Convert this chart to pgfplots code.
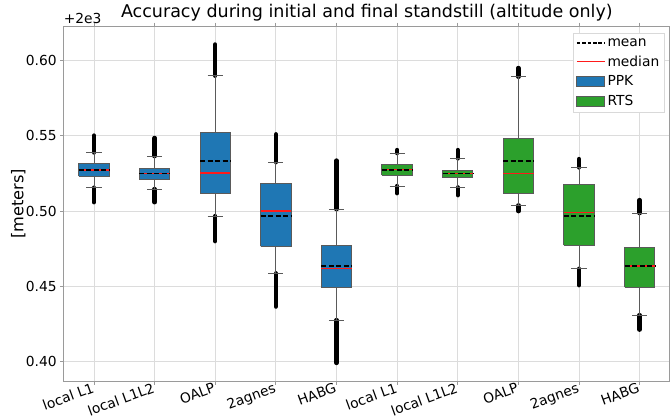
\documentclass[border=0pt]{standalone}
\usepackage{pgfplots}
\pgfplotsset{compat=1.18}
\usepackage{fontspec}
\setmainfont{DejaVu Sans}
\definecolor{ppk}{HTML}{1F77B4}
\definecolor{rts}{HTML}{2CA02C}
\definecolor{edge}{HTML}{5A5A5A}
\definecolor{gridc}{HTML}{DCDCDC}
\definecolor{spine}{HTML}{9A9A9A}
\definecolor{medc}{HTML}{FF1A1A}
\newcommand{\tickfont}{\fontsize{13.8}{16}\selectfont}
\begin{document}
\begin{tikzpicture}
\begin{axis}[
  name=ax,
  scale only axis,
  width=606pt, height=355pt,
  xmin=0.5, xmax=10.5,
  ymin=0.3871, ymax=0.6227,
  xtick={1,...,10},
  xticklabels={local L1, local L1L2, OALP, 2agnes, HABG, local L1, local L1L2, OALP, 2agnes, HABG},
  ytick={0.40,0.45,0.50,0.55,0.60},
  scaled y ticks=false,
  y tick label style={font=\tickfont, /pgf/number format/fixed, /pgf/number format/fixed zerofill, /pgf/number format/precision=2},
  /pgf/number format/assume math mode=true,
  x tick label style={xshift=-2pt, yshift=4pt, rotate=20, anchor=north east, font=\tickfont, inner sep=1pt},
  tick align=outside,
  major tick length=3.5pt,
  tick style={spine, line width=0.8pt},
  axis line style={spine, line width=1.2pt},
  grid=major,
  major grid style={gridc, line width=0.8pt},
  title={Accuracy during initial and final standstill (altitude only)},
  title style={at={(axis description cs:0.5,1)}, anchor=base, yshift=2.5pt, font=\fontsize{17.5}{20}\selectfont},
  ylabel={[meters]},
  ylabel style={at={(axis description cs:-0.057,0.5)}, anchor=south, font=\fontsize{16.2}{19}\selectfont},
  legend style={at={(axis description cs:1,1)}, anchor=north east, xshift=-6pt, yshift=-7pt, draw=black!15, fill=white, font=\tickfont, row sep=4pt, inner xsep=2.5pt, inner ysep=3pt, /tikz/every even column/.append style={column sep=7pt}},
  legend cell align=left,
]
\addlegendimage{legend image code/.code={\draw[black, line width=1.3pt, dash pattern=on 3.6pt off 1.8pt] (0pt,0pt) -- (28pt,0pt);}}
\addlegendentry{mean}
\addlegendimage{legend image code/.code={\draw[draw=medc, line width=1.4pt] (0pt,0pt) -- (28pt,0pt);}}
\addlegendentry{median}
\addlegendimage{legend image code/.code={\draw[fill=ppk, draw=edge, line width=0.9pt] (0pt,-5pt) rectangle (28pt,5pt);}}
\addlegendentry{PPK}
\addlegendimage{legend image code/.code={\draw[fill=rts, draw=edge, line width=0.9pt] (0pt,-5pt) rectangle (28pt,5pt);}}
\addlegendentry{RTS}

% fliers (dense outlier bands)
\addplot[black, line width=4.5pt, line cap=round, forget plot, unbounded coords=jump] coordinates {
 (1,0.5389) (1,0.5501) (1,nan)
 (1,0.5155) (1,0.5059) (1,nan)
 (2,0.5365) (2,0.5485) (2,nan)
 (2,0.5146) (2,0.5059) (2,nan)
 (3,0.5898) (3,0.6105) (3,nan)
 (3,0.4967) (3,0.4801) (3,nan)
 (4,0.5325) (4,0.5509) (4,nan)
 (4,0.4587) (4,0.4367) (4,nan)
 (5,0.5013) (5,0.5335) (5,nan)
 (5,0.4277) (5,0.3993) (5,nan)
 (6,0.5385) (6,0.5405) (6,nan)
 (6,0.5166) (6,0.5119) (6,nan)
 (7,0.5350) (7,0.5405) (7,nan)
 (7,0.5157) (7,0.5106) (7,nan)
 (8,0.5891) (8,0.5949) (8,nan)
 (8,0.5038) (8,0.5000) (8,nan)
 (9,0.5290) (9,0.5345) (9,nan)
 (9,0.4617) (9,0.4509) (9,nan)
 (10,0.4987) (10,0.5073) (10,nan)
 (10,0.4310) (10,0.4214)
};

% whiskers and caps
\addplot[edge, line width=0.9pt, forget plot, unbounded coords=jump] coordinates {
 (1,0.5314)(1,0.5389)(1,nan)(0.875,0.5389)(1.125,0.5389)(1,nan)(1,0.5230)(1,0.5155)(1,nan)(0.875,0.5155)(1.125,0.5155)(1,nan)
 (2,0.5283)(2,0.5365)(2,nan)(1.875,0.5365)(2.125,0.5365)(2,nan)(2,0.5210)(2,0.5146)(2,nan)(1.875,0.5146)(2.125,0.5146)(2,nan)
 (3,0.5520)(3,0.5898)(3,nan)(2.875,0.5898)(3.125,0.5898)(3,nan)(3,0.5117)(3,0.4967)(3,nan)(2.875,0.4967)(3.125,0.4967)(3,nan)
 (4,0.5184)(4,0.5325)(4,nan)(3.875,0.5325)(4.125,0.5325)(4,nan)(4,0.4766)(4,0.4587)(4,nan)(3.875,0.4587)(4.125,0.4587)(4,nan)
 (5,0.4770)(5,0.5013)(5,nan)(4.875,0.5013)(5.125,0.5013)(5,nan)(5,0.4494)(5,0.4277)(5,nan)(4.875,0.4277)(5.125,0.4277)(5,nan)
 (6,0.5310)(6,0.5385)(6,nan)(5.875,0.5385)(6.125,0.5385)(6,nan)(6,0.5239)(6,0.5166)(6,nan)(5.875,0.5166)(6.125,0.5166)(6,nan)
 (7,0.5270)(7,0.5350)(7,nan)(6.875,0.5350)(7.125,0.5350)(7,nan)(7,0.5221)(7,0.5157)(7,nan)(6.875,0.5157)(7.125,0.5157)(7,nan)
 (8,0.5482)(8,0.5891)(8,nan)(7.875,0.5891)(8.125,0.5891)(8,nan)(8,0.5117)(8,0.5038)(8,nan)(7.875,0.5038)(8.125,0.5038)(8,nan)
 (9,0.5175)(9,0.5290)(9,nan)(8.875,0.5290)(9.125,0.5290)(9,nan)(9,0.4772)(9,0.4617)(9,nan)(8.875,0.4617)(9.125,0.4617)(9,nan)
 (10,0.4759)(10,0.4987)(10,nan)(9.875,0.4987)(10.125,0.4987)(10,nan)(10,0.4496)(10,0.4310)(10,nan)(9.875,0.4310)(10.125,0.4310)
};

% boxes (lower quartile to upper quartile)
\addplot[fill=ppk, draw=edge, line width=1pt, forget plot] coordinates {(0.75,0.5230)(1.25,0.5230)(1.25,0.5314)(0.75,0.5314)(0.75,0.5230)};
\addplot[fill=ppk, draw=edge, line width=1pt, forget plot] coordinates {(1.75,0.5210)(2.25,0.5210)(2.25,0.5283)(1.75,0.5283)(1.75,0.5210)};
\addplot[fill=ppk, draw=edge, line width=1pt, forget plot] coordinates {(2.75,0.5117)(3.25,0.5117)(3.25,0.5520)(2.75,0.5520)(2.75,0.5117)};
\addplot[fill=ppk, draw=edge, line width=1pt, forget plot] coordinates {(3.75,0.4766)(4.25,0.4766)(4.25,0.5184)(3.75,0.5184)(3.75,0.4766)};
\addplot[fill=ppk, draw=edge, line width=1pt, forget plot] coordinates {(4.75,0.4494)(5.25,0.4494)(5.25,0.4770)(4.75,0.4770)(4.75,0.4494)};
\addplot[fill=rts, draw=edge, line width=1pt, forget plot] coordinates {(5.75,0.5239)(6.25,0.5239)(6.25,0.5310)(5.75,0.5310)(5.75,0.5239)};
\addplot[fill=rts, draw=edge, line width=1pt, forget plot] coordinates {(6.75,0.5221)(7.25,0.5221)(7.25,0.5270)(6.75,0.5270)(6.75,0.5221)};
\addplot[fill=rts, draw=edge, line width=1pt, forget plot] coordinates {(7.75,0.5117)(8.25,0.5117)(8.25,0.5482)(7.75,0.5482)(7.75,0.5117)};
\addplot[fill=rts, draw=edge, line width=1pt, forget plot] coordinates {(8.75,0.4772)(9.25,0.4772)(9.25,0.5175)(8.75,0.5175)(8.75,0.4772)};
\addplot[fill=rts, draw=edge, line width=1pt, forget plot] coordinates {(9.75,0.4496)(10.25,0.4496)(10.25,0.4759)(9.75,0.4759)(9.75,0.4496)};

% medians
\addplot[draw=medc, line width=1.4pt, forget plot, unbounded coords=jump] coordinates {
 (0.75,0.5272)(1.25,0.5272)(1,nan)
 (1.75,0.5248)(2.25,0.5248)(2,nan)
 (2.75,0.5252)(3.25,0.5252)(3,nan)
 (3.75,0.5000)(4.25,0.5000)(4,nan)
 (4.75,0.4620)(5.25,0.4620)(5,nan)
 (5.75,0.5274)(6.25,0.5274)(6,nan)
 (6.75,0.5250)(7.25,0.5250)(7,nan)
 (7.75,0.5248)(8.25,0.5248)(8,nan)
 (8.75,0.4991)(9.25,0.4991)(9,nan)
 (9.75,0.4635)(10.25,0.4635)
};

% means
\addplot[black, line width=1.5pt, dash pattern=on 5pt off 2.5pt, forget plot, unbounded coords=jump] coordinates {
 (0.75,0.5272)(1.25,0.5272)(1,nan)
 (1.75,0.5248)(2.25,0.5248)(2,nan)
 (2.75,0.5334)(3.25,0.5334)(3,nan)
 (3.75,0.4969)(4.25,0.4969)(4,nan)
 (4.75,0.4635)(5.25,0.4635)(5,nan)
 (5.75,0.5274)(6.25,0.5274)(6,nan)
 (6.75,0.5250)(7.25,0.5250)(7,nan)
 (7.75,0.5334)(8.25,0.5334)(8,nan)
 (8.75,0.4969)(9.25,0.4969)(9,nan)
 (9.75,0.4635)(10.25,0.4635)
};
\end{axis}
\node[anchor=base west, font=\tickfont, inner sep=0pt] at ([yshift=3pt]ax.north west) {+2e3};
\pgfresetboundingbox
\path ([xshift=-63.6pt, yshift=-34.9pt]ax.south west) rectangle ([yshift=26.1pt]ax.north east);
\end{tikzpicture}
\end{document}
